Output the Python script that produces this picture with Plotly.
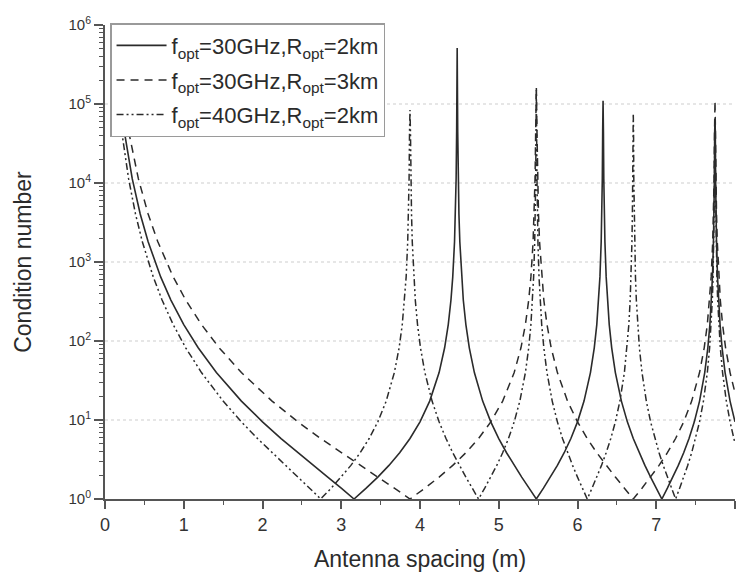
import plotly.graph_objects as go

# ---- data ----
spacing_30ghz_2km = [
    0.2, 0.2449, 0.3464, 0.4472, 0.5477, 0.7071, 0.8367, 1.0, 1.1832, 1.4142, 1.7321, 2.0, 2.2361, 2.4495, 2.6458, 2.8284, 3.0, 3.1623,
    3.3166, 3.4641, 3.6056, 3.7417, 3.8730, 4.0, 4.1231, 4.2426, 4.3128, 4.3589, 4.3932, 4.4159, 4.4385, 4.4497, 4.4587, 4.4654, 4.4721,
    4.4788, 4.4855, 4.4944, 4.5056, 4.5277, 4.5497, 4.5826, 4.6260, 4.6904, 4.7958, 4.8990, 5.0, 5.0990, 5.1962, 5.2915, 5.3852, 5.4772,
    5.5678, 5.6569, 5.7446, 5.8310, 5.9161, 6.0, 6.0828, 6.1644, 6.2129, 6.2450, 6.2690, 6.2849, 6.3008, 6.3087, 6.3151, 6.3198, 6.3246,
    6.3293, 6.3340, 6.3403, 6.3482, 6.3640, 6.3797, 6.4031, 6.4343, 6.4807, 6.5574, 6.6332, 6.7082, 6.7823, 6.8557, 6.9282, 7.0, 7.0711,
    7.1414, 7.2111, 7.2801, 7.3485, 7.4162, 7.4833, 7.5498, 7.6158, 7.6551, 7.6811, 7.7006, 7.7136, 7.7266, 7.7330, 7.7382, 7.7421, 7.7460,
    7.7499, 7.7537, 7.7589, 7.7653, 7.7782, 7.7910, 7.8102, 7.8358, 7.8740, 7.9373, 8.0,
]
cond_30ghz_2km = [
    101320, 45030, 11257, 4052, 1800, 647.8, 330.1, 161.4, 82.05, 39.86, 17.35, 9.472, 5.828, 3.852, 2.663, 1.894, 1.371, 1.0,
    1.371, 1.894, 2.663, 3.852, 5.828, 9.472, 17.35, 39.86, 82.05, 161.4, 330.1, 647.8, 1800, 4052, 11257, 45030, 510000,
    45030, 11257, 4052, 1800, 647.8, 330.1, 161.4, 82.05, 39.86, 17.35, 9.472, 5.828, 3.852, 2.663, 1.894, 1.371, 1.0,
    1.371, 1.894, 2.663, 3.852, 5.828, 9.472, 17.35, 39.86, 82.05, 161.4, 330.1, 647.8, 1800, 4052, 11257, 45030, 110000,
    45030, 11257, 4052, 1800, 647.8, 330.1, 161.4, 82.05, 39.86, 17.35, 9.472, 5.828, 3.852, 2.663, 1.894, 1.371, 1.0,
    1.371, 1.894, 2.663, 3.852, 5.828, 9.472, 17.35, 39.86, 82.05, 161.4, 330.1, 647.8, 1800, 4052, 11257, 45030, 60000,
    45030, 11257, 4052, 1800, 647.8, 330.1, 161.4, 82.05, 39.86, 17.35, 9.472,
]

spacing_30ghz_3km = [
    0.2449, 0.3, 0.4243, 0.5477, 0.6708, 0.8660, 1.0247, 1.2247, 1.4491, 1.7321, 2.1213, 2.4495, 2.7386, 3.0, 3.2404, 3.4641, 3.6742, 3.8730,
    4.0620, 4.2426, 4.4159, 4.5826, 4.7434, 4.8990, 5.0498, 5.1962, 5.2820, 5.3385, 5.3805, 5.4083, 5.4360, 5.4498, 5.4608, 5.4690, 5.4772,
    5.4854, 5.4936, 5.5045, 5.5182, 5.5453, 5.5723, 5.6125, 5.6657, 5.7446, 5.8737, 6.0, 6.1237, 6.2450, 6.3640, 6.4807, 6.5955, 6.7082,
    6.8191, 6.9282, 7.0356, 7.1414, 7.2457, 7.3485, 7.4498, 7.5498, 7.6092, 7.6485, 7.6779, 7.6974, 7.7169, 7.7266, 7.7343, 7.7402, 7.7460,
    7.7518, 7.7576, 7.7653, 7.7750, 7.7942, 7.8135, 7.8422, 7.8804, 7.9373, 8.0,
]
cond_30ghz_3km = [
    101320, 45030, 11257, 4052, 1800, 647.8, 330.1, 161.4, 82.05, 39.86, 17.35, 9.472, 5.828, 3.852, 2.663, 1.894, 1.371, 1.0,
    1.371, 1.894, 2.663, 3.852, 5.828, 9.472, 17.35, 39.86, 82.05, 161.4, 330.1, 647.8, 1800, 4052, 11257, 45030, 166000,
    45030, 11257, 4052, 1800, 647.8, 330.1, 161.4, 82.05, 39.86, 17.35, 9.472, 5.828, 3.852, 2.663, 1.894, 1.371, 1.0,
    1.371, 1.894, 2.663, 3.852, 5.828, 9.472, 17.35, 39.86, 82.05, 161.4, 330.1, 647.8, 1800, 4052, 11257, 45030, 110000,
    45030, 11257, 4052, 1800, 647.8, 330.1, 161.4, 82.05, 39.86, 22.1,
]

spacing_40ghz_2km = [
    0.1732, 0.2121, 0.3, 0.3873, 0.4743, 0.6124, 0.7246, 0.8660, 1.0247, 1.2247, 1.5, 1.7321, 1.9365, 2.1213, 2.2913, 2.4495, 2.5981, 2.7386,
    2.8723, 3.0, 3.1225, 3.2404, 3.3541, 3.4641, 3.5707, 3.6742, 3.7350, 3.7749, 3.8046, 3.8243, 3.8438, 3.8536, 3.8614, 3.8672, 3.8730,
    3.8788, 3.8846, 3.8923, 3.9019, 3.9211, 3.9402, 3.9686, 4.0062, 4.0620, 4.1533, 4.2426, 4.3301, 4.4159, 4.5, 4.5826, 4.6637, 4.7434,
    4.8218, 4.8990, 4.9749, 5.0498, 5.1235, 5.1962, 5.2678, 5.3385, 5.3805, 5.4083, 5.4291, 5.4429, 5.4566, 5.4635, 5.4690, 5.4731, 5.4772,
    5.4813, 5.4854, 5.4909, 5.4977, 5.5114, 5.5250, 5.5453, 5.5723, 5.6125, 5.6789, 5.7446, 5.8095, 5.8737, 5.9372, 6.0, 6.0622, 6.1237,
    6.1847, 6.2450, 6.3048, 6.3640, 6.4226, 6.4807, 6.5383, 6.5955, 6.6295, 6.6521, 6.6690, 6.6802, 6.6914, 6.6970, 6.7015, 6.7049, 6.7082,
    6.7116, 6.7149, 6.7194, 6.7249, 6.7361, 6.7472, 6.7639, 6.7860, 6.8191, 6.8739, 6.9282, 6.9821, 7.0356, 7.0887, 7.1414, 7.1937, 7.2457,
    7.2973, 7.3485, 7.3993, 7.4498, 7.5, 7.5498, 7.5993, 7.6485, 7.6779, 7.6974, 7.7120, 7.7217, 7.7315, 7.7363, 7.7402, 7.7431, 7.7460,
    7.7489, 7.7518, 7.7557, 7.7605, 7.7702, 7.7798, 7.7942, 7.8135, 7.8422, 7.8899, 7.9373, 7.9844, 8.0,
]
cond_40ghz_2km = [
    101320, 45030, 11257, 4052, 1800, 647.8, 330.1, 161.4, 82.05, 39.86, 17.35, 9.472, 5.828, 3.852, 2.663, 1.894, 1.371, 1.0,
    1.371, 1.894, 2.663, 3.852, 5.828, 9.472, 17.35, 39.86, 82.05, 161.4, 330.1, 647.8, 1800, 4052, 11257, 45030, 84000,
    45030, 11257, 4052, 1800, 647.8, 330.1, 161.4, 82.05, 39.86, 17.35, 9.472, 5.828, 3.852, 2.663, 1.894, 1.371, 1.0,
    1.371, 1.894, 2.663, 3.852, 5.828, 9.472, 17.35, 39.86, 82.05, 161.4, 330.1, 647.8, 1800, 4052, 11257, 45030, 150000,
    45030, 11257, 4052, 1800, 647.8, 330.1, 161.4, 82.05, 39.86, 17.35, 9.472, 5.828, 3.852, 2.663, 1.894, 1.371, 1.0,
    1.371, 1.894, 2.663, 3.852, 5.828, 9.472, 17.35, 39.86, 82.05, 161.4, 330.1, 647.8, 1800, 4052, 11257, 45030, 76000,
    45030, 11257, 4052, 1800, 647.8, 330.1, 161.4, 82.05, 39.86, 17.35, 9.472, 5.828, 3.852, 2.663, 1.894, 1.371, 1.0,
    1.371, 1.894, 2.663, 3.852, 5.828, 9.472, 17.35, 39.86, 82.05, 161.4, 330.1, 647.8, 1800, 4052, 11257, 45030, 60000,
    45030, 11257, 4052, 1800, 647.8, 330.1, 161.4, 82.05, 39.86, 17.35, 9.472, 5.828, 5.045,
]

series_names = [
    "f<sub>opt</sub>=30GHz,R<sub>opt</sub>=2km",
    "f<sub>opt</sub>=30GHz,R<sub>opt</sub>=3km",
    "f<sub>opt</sub>=40GHz,R<sub>opt</sub>=2km",
]
x_ticks = [0, 1, 2, 3, 4, 5, 6, 7, 8]
y_ticks = [1, 10, 100, 1000, 10000, 100000, 1000000]
y_tick_text = ["10<sup>0</sup>", "10<sup>1</sup>", "10<sup>2</sup>", "10<sup>3</sup>",
               "10<sup>4</sup>", "10<sup>5</sup>", "10<sup>6</sup>"]

FONT = "Arial, 'Liberation Sans', sans-serif"
INK = "#2b2b2b"

fig = go.Figure()
fig.add_trace(go.Scatter(x=spacing_30ghz_2km, y=cond_30ghz_2km, mode="lines", name=series_names[0],
                         legendgroup="a", line=dict(color=INK, width=1.6)))
fig.add_trace(go.Scatter(x=spacing_30ghz_3km, y=cond_30ghz_3km, mode="lines", name=series_names[1],
                         legendgroup="b", line=dict(color=INK, width=1.5, dash="8px,6px")))
fig.add_trace(go.Scatter(x=spacing_40ghz_2km, y=cond_40ghz_2km, mode="lines", name=series_names[2],
                         legendgroup="c", line=dict(color=INK, width=1.5, dash="7px,3px,2px,3px,2px,3px")))

# dotted horizontal grid at the inner decades
for k in range(1, 6):
    fig.add_shape(type="line", xref="paper", yref="paper", x0=0, x1=1, y0=k / 6, y1=k / 6,
                  line=dict(color="#cdcdcd", width=1.2, dash="dot"), layer="below")

fig.update_layout(
    width=737, height=572,
    margin=dict(l=105, r=2, t=25, b=73),
    paper_bgcolor="white", plot_bgcolor="white",
    font=dict(family=FONT, color="#333333"),
    showlegend=True,
    legend=dict(
        x=0.008, y=1.004, xanchor="left", yanchor="top",
        bgcolor="white", bordercolor="#9a9a9a", borderwidth=1.5,
        font=dict(family=FONT, size=22, color="#2b2b2b"),
        itemwidth=50, tracegroupgap=3,
    ),
    xaxis=dict(
        range=[0, 8], tickvals=x_ticks, ticks="outside", ticklen=8, tickwidth=1.5,
        tickcolor="#555555", showline=True, linecolor="#555555", linewidth=2,
        showgrid=False, zeroline=False, automargin=False,
        tickfont=dict(size=18, color="#333333"),
        minor=dict(dtick=0.5, ticks="outside", ticklen=4, tickwidth=1.2, tickcolor="#555555", showgrid=False),
        title=dict(text="Antenna spacing (m)", font=dict(size=23, color="#2b2b2b"), standoff=18),
    ),
    yaxis=dict(
        type="log", range=[0, 6], tickvals=y_ticks, ticktext=y_tick_text, ticks="outside",
        ticklen=9, tickwidth=1.5, tickcolor="#555555", showline=True, linecolor="#555555",
        linewidth=2, showgrid=False, zeroline=False, automargin=False,
        tickfont=dict(size=15, color="#333333"),
        minor=dict(dtick="D1", ticks="outside", ticklen=4, tickwidth=1.2, tickcolor="#555555", showgrid=False),
        title=dict(text="Condition number", font=dict(size=23, color="#2b2b2b"), standoff=30),
    ),
)

fig.write_html("out.html")
